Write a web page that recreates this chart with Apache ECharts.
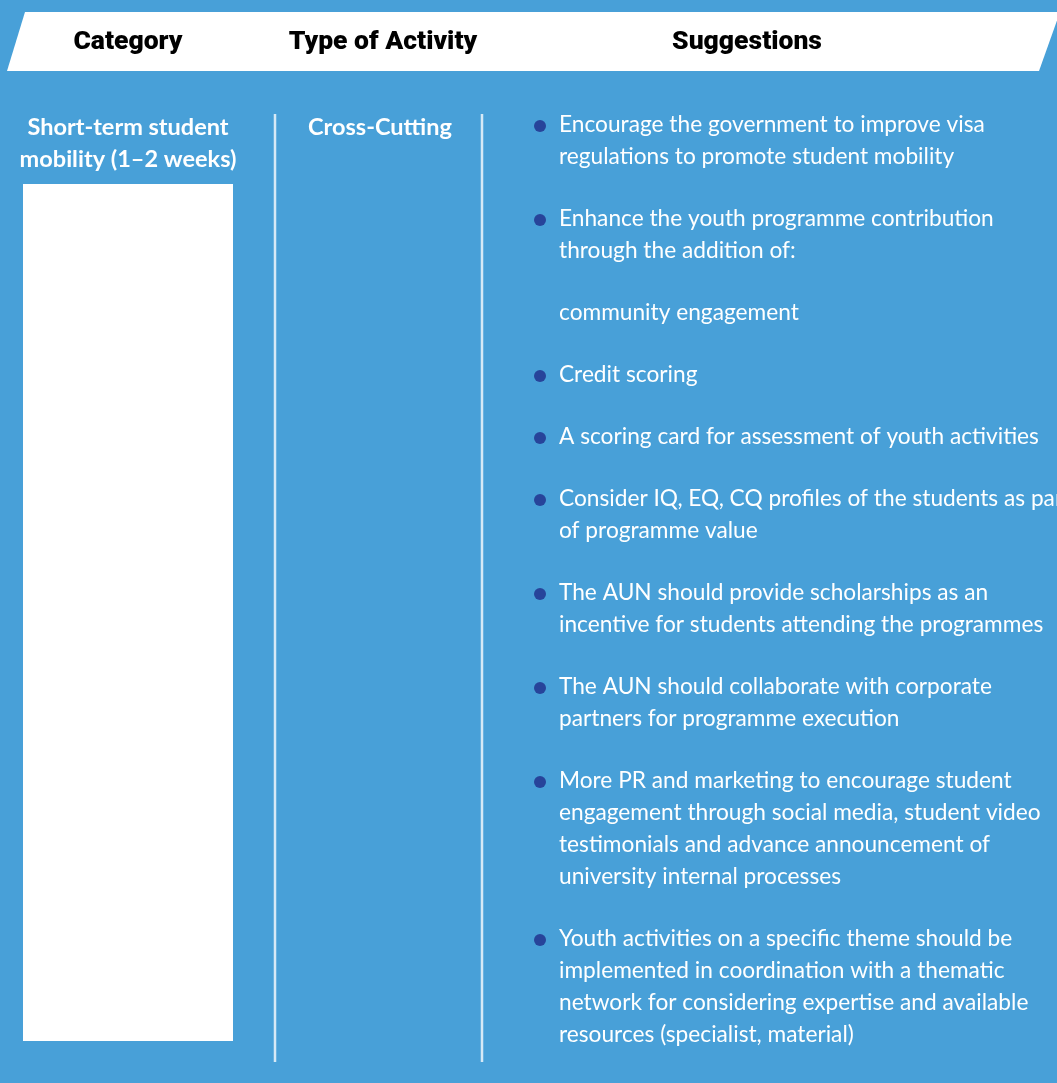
<!DOCTYPE html>
<html><head><meta charset="utf-8">
<script src="https://cdn.jsdelivr.net/npm/echarts@6/dist/echarts.min.js"></script>
<style>html,body{margin:0;padding:0;background:#48a0d8;}#c{width:1057px;height:1083px;}</style>
</head><body><div id="c"></div>
<script>
var headers = ['Category', 'Type of Activity', 'Suggestions'];
var categoryLines = ['Short-term student', 'mobility (1\u20132 weeks)'];
var activityLines = ['Cross-Cutting'];
var suggestionBullets = [true, true, false, true, true, true, true, true, true, true];
var suggestionLines = [
  ['Encourage the government to improve visa', 'regulations to promote student mobility'],
  ['Enhance the youth programme contribution', 'through the addition of:'],
  ['community engagement'],
  ['Credit scoring'],
  ['A scoring card for assessment of youth activities'],
  ['Consider IQ, EQ, CQ profiles of the students as part', 'of programme value'],
  ['The AUN should provide scholarships as an', 'incentive for students attending the programmes'],
  ['The AUN should collaborate with corporate', 'partners for programme execution'],
  ['More PR and marketing to encourage student', 'engagement through social media, student video', 'testimonials and advance announcement of', 'university internal processes'],
  ['Youth activities on a specific theme should be', 'implemented in coordination with a thematic', 'network for considering expertise and available', 'resources (specialist, material)']
];

var FONT = "'Source Sans Pro', Lato, 'Noto Sans', sans-serif";
var HFONT = "Roboto, 'Source Sans Pro', Lato, sans-serif";
var chart = echarts.init(document.getElementById('c'), null, {renderer: 'canvas'});
var els = [];
els.push({type: 'polygon', shape: {points: [[25, 12], [1060, 12], [1039, 71], [7, 71]]}, style: {fill: '#ffffff'}});
var headerX = [128, 383, 747];
headers.forEach(function (h, i) {
  els.push({type: 'text', x: headerX[i], y: 42, style: {text: h, fill: '#000', font: '900 26.5px ' + HFONT, align: 'center', verticalAlign: 'middle'}});
});
categoryLines.forEach(function (t, i) {
  els.push({type: 'text', x: 128, y: 127 + i * 32, style: {text: t, fill: '#fff', font: 'bold 23.5px ' + FONT, align: 'center', verticalAlign: 'middle'}});
});
els.push({type: 'rect', shape: {x: 23, y: 184, width: 210, height: 857}, style: {fill: '#ffffff'}});
activityLines.forEach(function (t, i) {
  els.push({type: 'text', x: 380, y: 127 + i * 32, style: {text: t, fill: '#fff', font: 'bold 23.5px ' + FONT, align: 'center', verticalAlign: 'middle'}});
});
[275, 482].forEach(function (x) {
  els.push({type: 'line', shape: {x1: x, y1: 114, x2: x, y2: 1062}, style: {stroke: '#d6e9f6', lineWidth: 2.5}});
});
var y = 125;
suggestionLines.forEach(function (lines, k) {
  if (suggestionBullets[k]) {
    els.push({type: 'circle', shape: {cx: 540, cy: y + 1, r: 6}, style: {fill: '#27449a'}});
  }
  lines.forEach(function (t, i) {
    els.push({type: 'text', x: 559, y: y + i * 32, style: {text: t, fill: '#fff', font: '22.7px ' + FONT, verticalAlign: 'middle'}});
  });
  y += lines.length * 32 + 30;
});
chart.setOption({backgroundColor: '#48a0d8', graphic: {elements: els}});
</script></body></html>
